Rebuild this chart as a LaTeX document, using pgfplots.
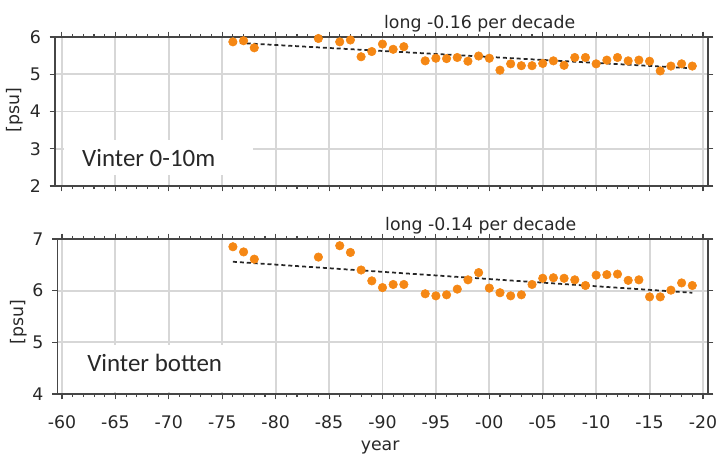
\documentclass[border=0pt]{standalone}
\usepackage{pgfplots}
\pgfplotsset{compat=1.18}
\usepackage{fontspec}
\setmainfont{DejaVu Sans}
\newfontfamily\calibri{Carlito}

\definecolor{axisgray}{RGB}{70,70,70}
\definecolor{gridgray}{RGB}{215,215,215}
\definecolor{txt}{RGB}{40,40,40}
\definecolor{dotorange}{RGB}{245,135,20}

\pgfplotsset{
  salinity/.style={
    scale only axis,
    anchor=north west,
    xmax=2020.47,
    axis line style={draw=axisgray, line width=1.1pt},
    grid=major,
    major grid style={draw=gridgray, line width=1.4pt},
    xtick={1960,1965,...,2020},
    minor x tick num=4,
    tick align=outside,
    xtick pos=both, ytick pos=both,
    major tick length=4pt, minor tick length=2.4pt,
    every tick/.style={draw=axisgray, line width=0.8pt},
    tick label style={font=\fontsize{13}{15}\selectfont, text=txt},
    xticklabel style={anchor=base, yshift=-22pt},
    yticklabel style={xshift=-3pt},
    label style={font=\fontsize{13}{15}\selectfont, text=txt},
    clip=false,
  },
  dots/.style={only marks, mark=*, mark size=3.2pt, color=dotorange},
  trend/.style={no marks, draw=black!85, line width=1.3pt,
    dash pattern=on 3pt off 2.2pt},
}

\begin{document}
\begin{tikzpicture}
\path[use as bounding box] (0,0) rectangle (538.5pt,-341.25pt);

% surface layer, winter
\begin{axis}[salinity,
  at={(41.25pt,-27.75pt)},
  width=489.75pt, height=111.75pt,
  xmin=1959.35,
  ymin=2, ymax=6,
  ytick={2,3,4,5,6},
  yticklabels={2,3,4,5,6},
  xticklabels=\empty,
  ylabel={[psu]},
  ylabel style={at={(axis description cs:-0.061,0.51)}, anchor=center, rotate=0},
]
\fill[white] (axis cs:1960.19,3.235) rectangle (axis cs:1977.88,2.295);
\node[anchor=base west, inner sep=0pt, font=\calibri\fontsize{18.7}{22}\selectfont, text=txt]
  at (axis cs:1961.87,2.537) {Vinter 0-10m};
\node[anchor=base, inner sep=0pt, font=\fontsize{13}{15}\selectfont, text=txt]
  at (axis cs:1999.1,6) [yshift=6.7pt] {long -0.16 per decade};
\addplot[trend] coordinates {(1976,5.85) (2019,5.16)};
\addplot[dots] table {
1976 5.87
1977 5.90
1978 5.71
1984 5.96
1986 5.87
1987 5.92
1988 5.47
1989 5.61
1990 5.81
1991 5.67
1992 5.74
1994 5.36
1995 5.43
1996 5.42
1997 5.45
1998 5.35
1999 5.49
2000 5.43
2001 5.11
2002 5.28
2003 5.23
2004 5.23
2005 5.29
2006 5.36
2007 5.24
2008 5.45
2009 5.45
2010 5.28
2011 5.38
2012 5.45
2013 5.36
2014 5.38
2015 5.35
2016 5.09
2017 5.22
2018 5.28
2019 5.22
};
\end{axis}

% bottom water, winter
\begin{axis}[salinity,
  at={(43.125pt,-179.25pt)},
  width=487.875pt, height=116.25pt,
  xmin=1959.58,
  ymin=4, ymax=7,
  ytick={4,5,6,7},
  yticklabels={4,5,6,7},
  xticklabels={-60,-65,-70,-75,-80,-85,-90,-95,-00,-05,-10,-15,-20},
  xlabel={year},
  xlabel style={at={(axis description cs:0.496,0)}, anchor=base, yshift=-42pt},
  ylabel={[psu]},
  ylabel style={at={(axis description cs:-0.06,0.465)}, anchor=center, rotate=0},
]
\fill[white] (axis cs:1960.19,4.948) rectangle (axis cs:1979.47,4.03);
\node[anchor=base west, inner sep=0pt, font=\calibri\fontsize{18.7}{22}\selectfont, text=txt]
  at (axis cs:1962.34,4.432) {Vinter botten};
\node[anchor=base, inner sep=0pt, font=\fontsize{13}{15}\selectfont, text=txt]
  at (axis cs:1999.2,7) [yshift=6.3pt] {long -0.14 per decade};
\addplot[trend] coordinates {(1976,6.56) (2019,5.96)};
\addplot[dots] table {
1976 6.85
1977 6.75
1978 6.61
1984 6.65
1986 6.87
1987 6.74
1988 6.40
1989 6.19
1990 6.06
1991 6.12
1992 6.12
1994 5.94
1995 5.90
1996 5.92
1997 6.03
1998 6.21
1999 6.35
2000 6.05
2001 5.96
2002 5.90
2003 5.92
2004 6.12
2005 6.24
2006 6.25
2007 6.24
2008 6.21
2009 6.10
2010 6.30
2011 6.31
2012 6.32
2013 6.20
2014 6.21
2015 5.88
2016 5.88
2017 6.01
2018 6.15
2019 6.10
};
\end{axis}
\end{tikzpicture}
\end{document}
